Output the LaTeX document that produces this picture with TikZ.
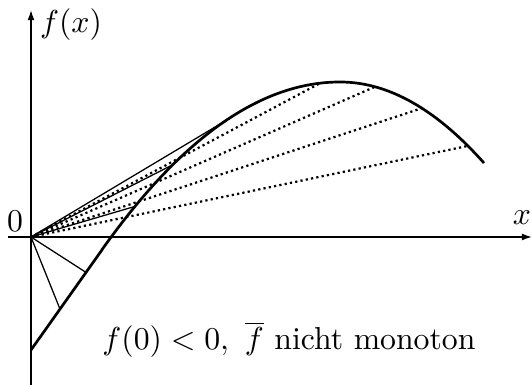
\documentclass[tikz,border=0pt]{standalone}
\usetikzlibrary{arrows.meta}
\begin{document}
\begin{tikzpicture}[x=0.315pt,y=0.315pt,
  axis/.style={line width=0.45pt,-{Latex[length=3.2pt,width=2.2pt]}},
  curve/.style={line width=0.85pt},
  secant/.style={line width=0.4pt},
  dotsec/.style={line width=0.7pt,dash pattern=on 0.7pt off 1pt},
  lab/.style={inner sep=0pt}]
\useasboundingbox (-31,-148) rectangle (501,237);
\coordinate (O) at (0,0);
\coordinate (ybot) at (0,-148);
\coordinate (ytop) at (0,227);
\coordinate (xl) at (-23,0);
\coordinate (xr) at (501,0);
\draw[axis] (ybot) -- (ytop);
\draw[axis] (xl) -- (xr);
\node[lab] (fx) at (40,212) {$f(x)$};
\node[lab] (xlab) at (491,19) {$x$};
\node[lab] (zero) at (-16,16) {$0$};
% curve
\draw[curve] plot[domain=0:71,samples=2] (\x,{-113+1.41*\x})
  -- plot[domain=71:309,samples=60] (\x,{155-0.00296*(\x-309)*(\x-309)})
  -- plot[domain=309:453,samples=40] (\x,{155-0.0039*(\x-309)*(\x-309)});
% points on the curve
\coordinate (p1) at (29,-72.1);
\coordinate (p2) at (55,-35.4);
\coordinate (p3) at (104,30.6);
\coordinate (p4) at (142,72.4);
\coordinate (p5) at (194,115.9);
\coordinate (q1) at (289,153.8);
\coordinate (q2) at (344,150.2);
\coordinate (q3) at (391,128.8);
\coordinate (q4) at (437,91.1);
\foreach \p in {p1,p2,p3,p4,p5} \draw[secant] (O) -- (\p);
\foreach \q in {q1,q2,q3,q4} \draw[dotsec] (O) -- (\q);
\node[lab,anchor=base] (txt) at (258,-113) {$f(0)<0,\ \overline{f}$ nicht monoton};
\end{tikzpicture}
\end{document}
